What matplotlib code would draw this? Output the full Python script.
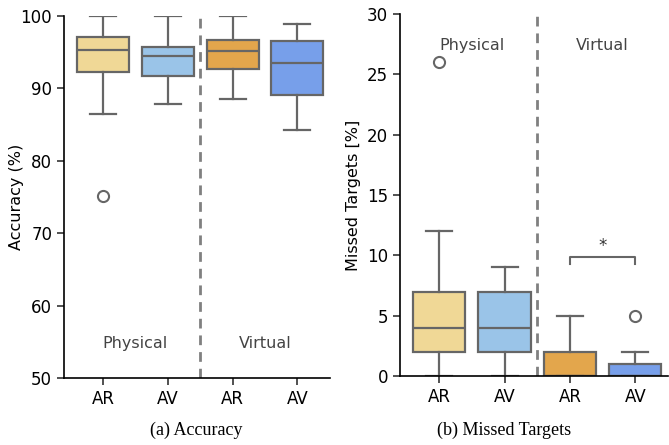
import matplotlib
matplotlib.use("Agg")
import matplotlib.pyplot as plt

plt.rcParams["font.family"] = ["DejaVu Sans"]

# categorias e cores
rotulos = ["AR", "AV", "AR", "AV"]
cores = ["#F0D896", "#9AC4E8", "#E3A64C", "#779FEA"]

# (a) Accuracy - estatisticas
acc_whislo = [86.4, 87.8, 88.5, 84.2]
acc_q1 = [92.3, 91.65, 92.75, 89.1]
acc_med = [95.35, 94.5, 95.15, 93.45]
acc_q3 = [97.15, 95.75, 96.7, 96.6]
acc_whishi = [100.0, 100.0, 100.0, 98.9]
acc_fliers = [[75.2], [], [], []]

# (b) Missed Targets
mt_whislo = [0, 0, 0, 0]
mt_q1 = [2, 2, 0, 0]
mt_med = [4, 4, 0, 0]
mt_q3 = [7, 7, 2, 1]
mt_whishi = [12, 9, 5, 2]
mt_fliers = [[26], [], [], [5]]

COR_LINHA = "#666666"


def monta_stats(lo, q1, med, q3, hi, fl):
    return [dict(whislo=lo[i], q1=q1[i], med=med[i], q3=q3[i], whishi=hi[i], fliers=fl[i])
            for i in range(len(rotulos))]


def desenha(ax, stats):
    bp = ax.bxp(stats, positions=range(4), widths=0.8, patch_artist=True,
                boxprops=dict(edgecolor=COR_LINHA, linewidth=1.6),
                medianprops=dict(color=COR_LINHA, linewidth=1.6),
                whiskerprops=dict(color=COR_LINHA, linewidth=1.6),
                capprops=dict(color=COR_LINHA, linewidth=1.6),
                flierprops=dict(marker="o", markerfacecolor="none", markeredgecolor=COR_LINHA,
                                markersize=8, markeredgewidth=1.5))
    for caixa, c in zip(bp["boxes"], cores):
        caixa.set_facecolor(c)
    ax.axvline(1.5, color="#808080", linestyle=(0, (3.5, 2.5)), linewidth=2)
    ax.spines["top"].set_visible(False)
    ax.spines["right"].set_visible(False)
    ax.set_xlim(-0.6, 3.5)
    ax.set_xticks(range(4))
    ax.set_xticklabels(rotulos)
    ax.tick_params(labelsize=12, length=5, width=1.2, color="#333333")
    for s in ax.spines.values():
        s.set_linewidth(1.2)


fig = plt.figure(figsize=(6.69, 4.45), dpi=100)
ax1 = fig.add_axes([0.0957, 0.1506, 0.3973, 0.8134])
ax2 = fig.add_axes([0.598, 0.155, 0.4005, 0.8135])

desenha(ax1, monta_stats(acc_whislo, acc_q1, acc_med, acc_q3, acc_whishi, acc_fliers))
ax1.set_ylim(50, 100)
ax1.set_yticks([50, 60, 70, 80, 90, 100])
ax1.set_ylabel("Accuracy (%)", fontsize=11.5)
ax1.yaxis.set_label_coords(-0.15, 0.5)
ax1.text(0.5, 54.8, "Physical", ha="center", va="center", fontsize=11.5, color="#444444")
ax1.text(2.5, 54.8, "Virtual", ha="center", va="center", fontsize=11.5, color="#444444")

desenha(ax2, monta_stats(mt_whislo, mt_q1, mt_med, mt_q3, mt_whishi, mt_fliers))
ax2.set_ylim(0, 30)
ax2.set_yticks([0, 5, 10, 15, 20, 25, 30])
ax2.set_ylabel("Missed Targets [%]", fontsize=11.5)
ax2.yaxis.set_label_coords(-0.145, 0.5)
ax2.text(0.5, 27.4, "Physical", ha="center", va="center", fontsize=11.5, color="#444444")
ax2.text(2.5, 27.4, "Virtual", ha="center", va="center", fontsize=11.5, color="#444444")

# marca de significancia
ax2.plot([2, 2, 3, 3], [9.3, 9.9, 9.9, 9.3], color=COR_LINHA, linewidth=1.5)
ax2.text(2.5, 10.0, "*", ha="center", va="bottom", fontsize=12, color="#333333")

fig.text(0.294, 0.034, "(a) Accuracy", ha="center", va="center", fontsize=13,
         family="Liberation Serif")
fig.text(0.753, 0.034, "(b) Missed Targets", ha="center", va="center", fontsize=13,
         family="Liberation Serif")

fig.savefig("out.png", dpi=100)
